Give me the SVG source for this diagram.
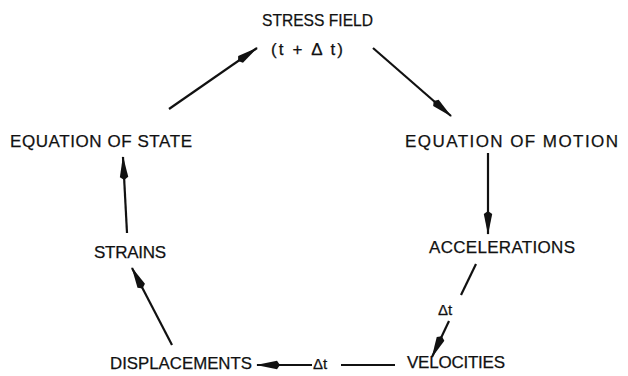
<svg xmlns="http://www.w3.org/2000/svg" width="628" height="376" viewBox="0 0 628 376">
<style>
  text { font-family: "Liberation Sans", Arial, sans-serif; font-size: 17px; fill: #111; stroke: #111; stroke-width: 0.25; }
  .small { font-size: 15px; }
  .conn line { stroke: #111; stroke-width: 2.2; fill: none; }
</style>
<defs>
  <marker id="ah" viewBox="0 0 24 10" refX="23" refY="5" markerWidth="24" markerHeight="10" markerUnits="userSpaceOnUse" orient="auto">
    <path d="M0,5 L3,0.8 L24,5 L3,9.2 Z" fill="#111"/>
  </marker>
</defs>
<rect width="628" height="376" fill="#fff"/>
<g id="stress-field">
  <text x="262" y="26" textLength="111" lengthAdjust="spacingAndGlyphs">STRESS FIELD</text>
  <text x="271" y="55" textLength="72" lengthAdjust="spacing">(t +  Δ t)</text>
</g>
<g id="equation-of-motion">
  <text x="405" y="147" textLength="213" lengthAdjust="spacing">EQUATION OF MOTION</text>
</g>
<g id="accelerations">
  <text x="429" y="253" textLength="146" lengthAdjust="spacing">ACCELERATIONS</text>
</g>
<g id="velocities">
  <text x="407" y="368" textLength="98" lengthAdjust="spacing">VELOCITIES</text>
</g>
<g id="displacements">
  <text x="110" y="369" textLength="142" lengthAdjust="spacingAndGlyphs">DISPLACEMENTS</text>
</g>
<g id="strains">
  <text x="94" y="258" textLength="72" lengthAdjust="spacing">STRAINS</text>
</g>
<g id="equation-of-state">
  <text x="10" y="147" textLength="182" lengthAdjust="spacing">EQUATION OF STATE</text>
</g>
<g class="conn" id="connectors">
  <line x1="169" y1="109" x2="257" y2="48" marker-end="url(#ah)"/>
  <line x1="373" y1="48" x2="451" y2="116" marker-end="url(#ah)"/>
  <line x1="488" y1="153" x2="488" y2="234" marker-end="url(#ah)"/>
  <line x1="476" y1="264" x2="461" y2="295"/>
  <text class="small" x="438" y="315">Δt</text>
  <line x1="449" y1="321" x2="432" y2="357" marker-end="url(#ah)"/>
  <line x1="395" y1="365" x2="341" y2="365"/>
  <text class="small" x="313" y="369">Δt</text>
  <line x1="312" y1="365" x2="257" y2="365" marker-end="url(#ah)"/>
  <line x1="172" y1="345" x2="132" y2="268" marker-end="url(#ah)"/>
  <line x1="127" y1="233" x2="123" y2="157" marker-end="url(#ah)"/>
</g>
</svg>
